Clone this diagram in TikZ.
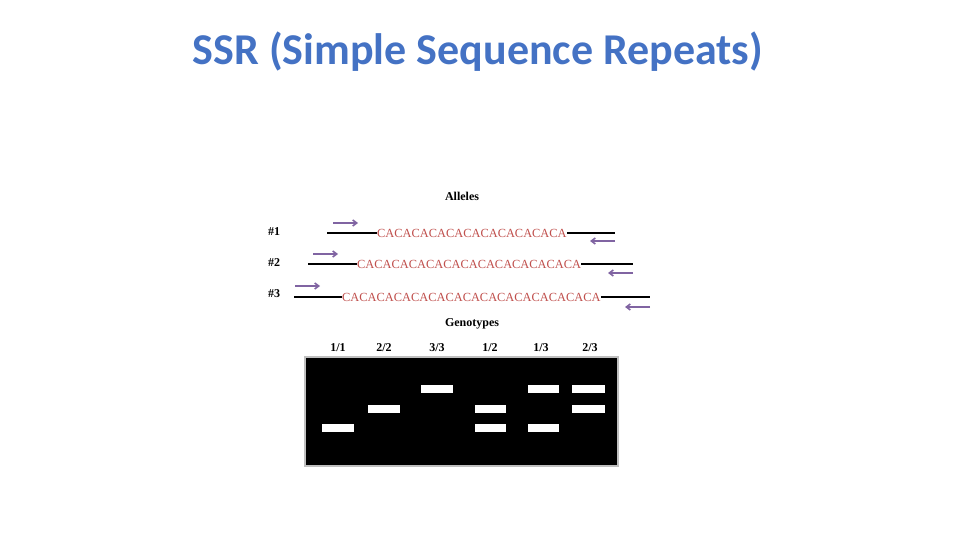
\documentclass[tikz,border=0pt]{standalone}
\usepackage{fontspec}
\usetikzlibrary{arrows.meta}
\setmainfont{Liberation Serif}
\newfontfamily\titlefont{Carlito}
\definecolor{ttl}{HTML}{4472C4}
\definecolor{seq}{HTML}{C0504D}
\definecolor{arr}{HTML}{8064A2}
\begin{document}
\begin{tikzpicture}[x=1pt,y=-1pt,
  lbl/.style={font=\bfseries\fontsize{12}{13}\selectfont,inner sep=0},
  sq/.style={text=seq,font=\fontsize{12.4}{13}\selectfont,inner sep=0,anchor=west},
  ln/.style={line width=1.4pt},
  pa/.style={arr,line width=1.6pt,-{Straight Barb[length=4pt,width=6pt]}},
  band/.style={fill=white,draw=none}]
\useasboundingbox (0,0) rectangle (960,540);
\node[font=\titlefont\bfseries\fontsize{44}{46}\selectfont,text=ttl] (title) at (478,52) {SSR (Simple Sequence Repeats)};
\node[lbl] (alleles) at (462,196) {Alleles};
\node[lbl] (l1) at (274,232) {\#1};
\node[lbl] (l2) at (274,263) {\#2};
\node[lbl] (l3) at (274,294) {\#3};
\coordinate (a1s) at (327,233);
\node[sq] (s1) at (377,233) {CACACACACACACACACACACA};
\coordinate (a1e) at (615,233);
\draw[ln] (a1s) -- (s1.west) (s1.east) -- (a1e);
\coordinate (p1a) at (333,223); \coordinate (p1b) at (358,223);
\coordinate (q1a) at (615,241); \coordinate (q1b) at (590,241);
\draw[pa] (p1a) -- (p1b); \draw[pa] (q1a) -- (q1b);
\coordinate (a2s) at (308,264);
\node[sq] (s2) at (357,264) {CACACACACACACACACACACACACA};
\coordinate (a2e) at (633,264);
\draw[ln] (a2s) -- (s2.west) (s2.east) -- (a2e);
\coordinate (p2a) at (313,254); \coordinate (p2b) at (338,254);
\coordinate (q2a) at (633,273); \coordinate (q2b) at (608,273);
\draw[pa] (p2a) -- (p2b); \draw[pa] (q2a) -- (q2b);
\coordinate (a3s) at (294,297);
\node[sq] (s3) at (342,297) {CACACACACACACACACACACACACACACA};
\coordinate (a3e) at (650,297);
\draw[ln] (a3s) -- (s3.west) (s3.east) -- (a3e);
\coordinate (p3a) at (295,286); \coordinate (p3b) at (320,286);
\coordinate (q3a) at (650,307); \coordinate (q3b) at (625,307);
\draw[pa] (p3a) -- (p3b); \draw[pa] (q3a) -- (q3b);
\node[lbl] (geno) at (472,324) {Genotypes};
\node[lbl] (g1) at (338,348) {1/1};
\node[lbl] (g2) at (384,348) {2/2};
\node[lbl] (g3) at (437,348) {3/3};
\node[lbl] (g4) at (490,348) {1/2};
\node[lbl] (g5) at (541,348) {1/3};
\node[lbl] (g6) at (590,348) {2/3};
\draw[fill=black,draw=black!25,line width=1.2pt] (305,357) rectangle (618,466);
\fill[band] (322,424) rectangle (354,432);
\fill[band] (368,405) rectangle (400,413);
\fill[band] (421,385) rectangle (453,393);
\fill[band] (475,405) rectangle (506,413);
\fill[band] (475,424) rectangle (506,432);
\fill[band] (528,385) rectangle (559,393);
\fill[band] (528,424) rectangle (559,432);
\fill[band] (572,385) rectangle (605,393);
\fill[band] (572,405) rectangle (605,413);
\end{tikzpicture}
\end{document}
